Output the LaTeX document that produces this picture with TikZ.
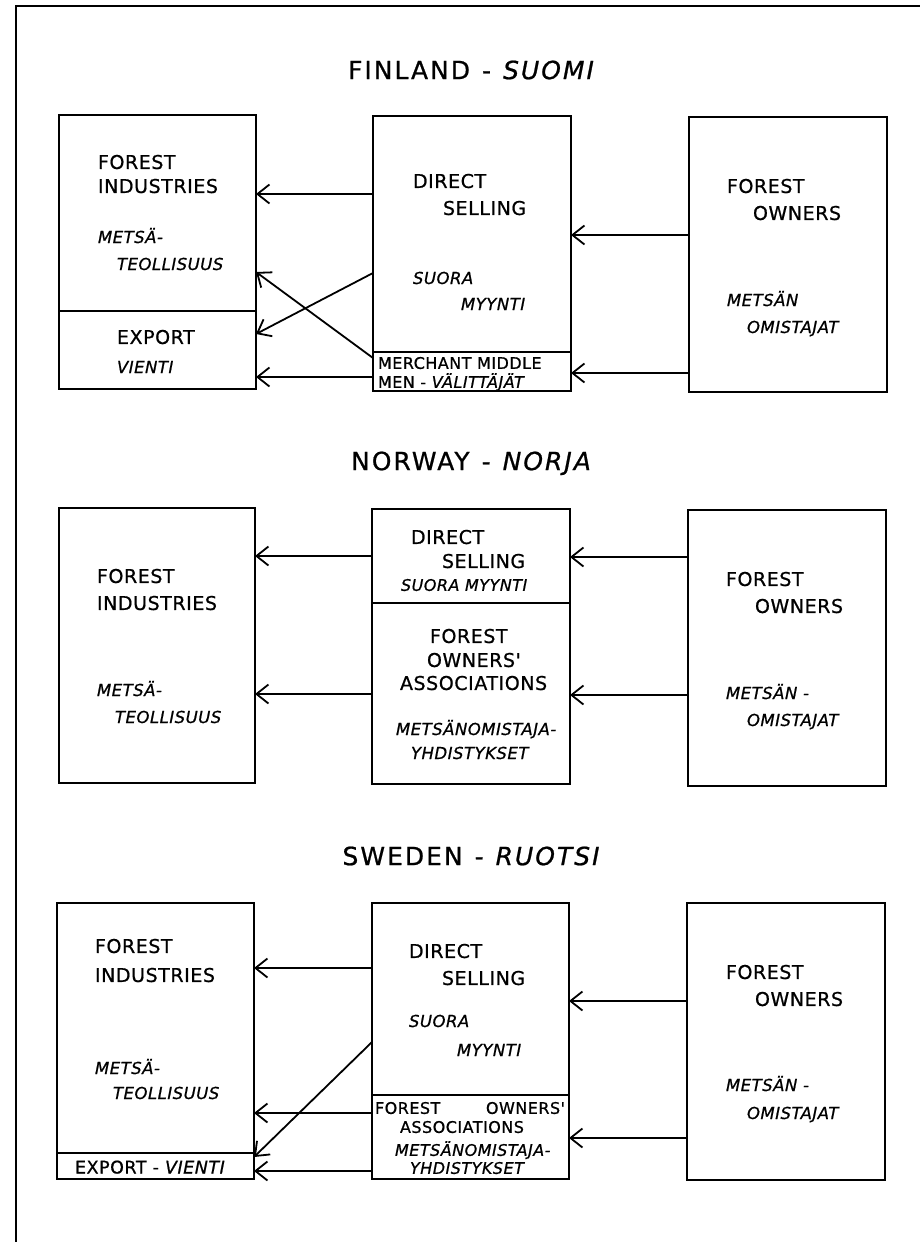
\documentclass[tikz,border=0pt]{standalone}
\usepackage{fontspec}
\setmainfont{DejaVu Sans}
\newfontfamily\dv{DejaVu Sans}[LetterSpace=3, FakeBold=0.8, ItalicFont={DejaVu Sans Oblique}]
\newfontfamily\ttlfont{DejaVu Sans}[LetterSpace=8, FakeBold=0.8, ItalicFont={DejaVu Sans Oblique}]
\usetikzlibrary{arrows.meta}
\tikzset{
  xbox/.style={draw, line width=2.3pt, anchor=north west, inner sep=0pt, outer sep=0pt},
  xdiv/.style={line width=1.8pt},
  xarr/.style={line width=1.8pt, -{Straight Barb[length=12pt,width=19pt]}},
  xframe/.style={line width=2.2pt},
  lbl/.style={anchor=west, inner sep=0pt, outer sep=0pt, text depth=0pt},
  lblbig/.style={lbl, text height=13.9pt, font=\dv\fontsize{19}{19}\selectfont},
  lblit/.style={lbl, text height=12pt, font=\dv\fontsize{16.5}{16.5}\selectfont\itshape},
  lblsm/.style={lbl, text height=11.7pt, font=\dv\fontsize{16}{16}\selectfont},
  lblsmit/.style={lbl, text height=11.7pt, font=\dv\fontsize{16}{16}\selectfont\itshape},
  ttl/.style={anchor=center, inner sep=0pt, outer sep=0pt, text height=18.2pt, text depth=0pt, font=\ttlfont\fontsize{25}{25}\selectfont},
}
\begin{document}
\begin{tikzpicture}[x=1pt,y=-1pt]
\useasboundingbox (0,0) rectangle (920,1242);
\draw[xframe] (16,1242) -- (16,6) -- (920,6);

% ---------------- FINLAND ----------------
\node[ttl] (fiT) at (472,70) {FINLAND\hspace{12pt}-\hspace{12pt}\textit{SUOMI}};
\node[xbox, minimum width=197pt, minimum height=274pt] (fiL) at (59,115) {};
\node[xbox, minimum width=198pt, minimum height=275pt] (fiM) at (373,116) {};
\node[xbox, minimum width=198pt, minimum height=275pt] (fiR) at (689,117) {};
\draw[xdiv] (fiL.west |- 0,311) -- (fiL.east |- 0,311);
\draw[xdiv] (fiM.west |- 0,352) -- (fiM.east |- 0,352);

\node[lblbig] (fiL1) at (98,162) {FOREST};
\node[lblbig] (fiL2) at (98,186) {INDUSTRIES};
\node[lblit]  (fiL3) at (98,237) {METSÄ-};
\node[lblit]  (fiL4) at (117,264) {TEOLLISUUS};
\node[lblbig] (fiL5) at (117,337) {EXPORT};
\node[lblit]  (fiL6) at (117,367) {VIENTI};

\node[lblbig] (fiM1) at (413,181) {DIRECT};
\node[lblbig] (fiM2) at (443,208) {SELLING};
\node[lblit]  (fiM3) at (413,278) {SUORA};
\node[lblit]  (fiM4) at (461,304) {MYYNTI};
\node[lblsm]  (fiM5) at (378,363) {MERCHANT MIDDLE};
\node[lblsm]  (fiM6) at (378,382) {MEN - \textit{VÄLITTÄJÄT}};

\node[lblbig] (fiR1) at (727,186) {FOREST};
\node[lblbig] (fiR2) at (753,213) {OWNERS};
\node[lblit]  (fiR3) at (727,300) {METSÄN};
\node[lblit]  (fiR4) at (747,327) {OMISTAJAT};

\draw[xarr] (fiM.west |- 0,194) -- (fiL.east |- 0,194);
\draw[xarr] (fiM.west |- 0,273) -- (fiL.east |- 0,334);
\draw[xarr] (fiM.west |- 0,358) -- (fiL.east |- 0,272);
\draw[xarr] (fiM.west |- 0,377) -- (fiL.east |- 0,377);
\draw[xarr] (fiR.west |- 0,235) -- (fiM.east |- 0,235);
\draw[xarr] (fiR.west |- 0,373) -- (fiM.east |- 0,373);

% ---------------- NORWAY ----------------
\node[ttl] (noT) at (472,461) {NORWAY\hspace{12pt}-\hspace{12pt}\textit{NORJA}};
\node[xbox, minimum width=196pt, minimum height=275pt] (noL) at (59,508) {};
\node[xbox, minimum width=198pt, minimum height=275pt] (noM) at (372,509) {};
\node[xbox, minimum width=198pt, minimum height=276pt] (noR) at (688,510) {};
\draw[xdiv] (noM.west |- 0,603) -- (noM.east |- 0,603);

\node[lblbig] (noL1) at (97,576) {FOREST};
\node[lblbig] (noL2) at (97,603) {INDUSTRIES};
\node[lblit]  (noL3) at (97,690) {METSÄ-};
\node[lblit]  (noL4) at (115,717) {TEOLLISUUS};

\node[lblbig] (noM1) at (411,537) {DIRECT};
\node[lblbig] (noM2) at (442,561) {SELLING};
\node[lblsmit] (noM3) at (401,585) {SUORA MYYNTI};
\node[lblbig] (noM4) at (430,636) {FOREST};
\node[lblbig] (noM5) at (427,660) {OWNERS'};
\node[lblbig] (noM6) at (400,683) {ASSOCIATIONS};
\node[lblit]  (noM7) at (396,729) {METSÄNOMISTAJA-};
\node[lblit]  (noM8) at (411,753) {YHDISTYKSET};

\node[lblbig] (noR1) at (726,579) {FOREST};
\node[lblbig] (noR2) at (755,606) {OWNERS};
\node[lblit]  (noR3) at (726,693) {METSÄN -};
\node[lblit]  (noR4) at (747,720) {OMISTAJAT};

\draw[xarr] (noM.west |- 0,556) -- (noL.east |- 0,556);
\draw[xarr] (noM.west |- 0,694) -- (noL.east |- 0,694);
\draw[xarr] (noR.west |- 0,557) -- (noM.east |- 0,557);
\draw[xarr] (noR.west |- 0,695) -- (noM.east |- 0,695);

% ---------------- SWEDEN ----------------
\node[ttl] (swT) at (472,856) {SWEDEN\hspace{12pt}-\hspace{12pt}\textit{RUOTSI}};
\node[xbox, minimum width=197pt, minimum height=276pt] (swL) at (57,903) {};
\node[xbox, minimum width=197pt, minimum height=276pt] (swM) at (372,903) {};
\node[xbox, minimum width=198pt, minimum height=277pt] (swR) at (687,903) {};
\draw[xdiv] (swL.west |- 0,1153) -- (swL.east |- 0,1153);
\draw[xdiv] (swM.west |- 0,1095) -- (swM.east |- 0,1095);

\node[lblbig] (swL1) at (95,946) {FOREST};
\node[lblbig] (swL2) at (95,975) {INDUSTRIES};
\node[lblit]  (swL3) at (95,1068) {METSÄ-};
\node[lblit]  (swL4) at (113,1093) {TEOLLISUUS};
\node[lblsm, text height=13pt, font=\dv\fontsize{17.5}{17.5}\selectfont] (swL5) at (75,1167) {EXPORT - \textit{VIENTI}};

\node[lblbig] (swM1) at (409,951) {DIRECT};
\node[lblbig] (swM2) at (442,978) {SELLING};
\node[lblit]  (swM3) at (409,1021) {SUORA};
\node[lblit]  (swM4) at (457,1050) {MYYNTI};
\node[lblsm]  (swM5) at (375,1108) {\makebox[190pt][s]{FOREST\hfill OWNERS'}};
\node[lblsm]  (swM6) at (400,1127) {ASSOCIATIONS};
\node[lblsmit] (swM7) at (395,1150) {METSÄNOMISTAJA-};
\node[lblsmit] (swM8) at (410,1168) {YHDISTYKSET};

\node[lblbig] (swR1) at (726,972) {FOREST};
\node[lblbig] (swR2) at (755,999) {OWNERS};
\node[lblit]  (swR3) at (726,1085) {METSÄN -};
\node[lblit]  (swR4) at (747,1113) {OMISTAJAT};

\draw[xarr] (swM.west |- 0,968) -- (swL.east |- 0,968);
\draw[xarr] (swM.west |- 0,1042) -- (swL.east |- 0,1157);
\draw[xarr] (swM.west |- 0,1113) -- (swL.east |- 0,1113);
\draw[xarr] (swM.west |- 0,1171) -- (swL.east |- 0,1171);
\draw[xarr] (swR.west |- 0,1001) -- (swM.east |- 0,1001);
\draw[xarr] (swR.west |- 0,1138) -- (swM.east |- 0,1138);
\end{tikzpicture}
\end{document}
